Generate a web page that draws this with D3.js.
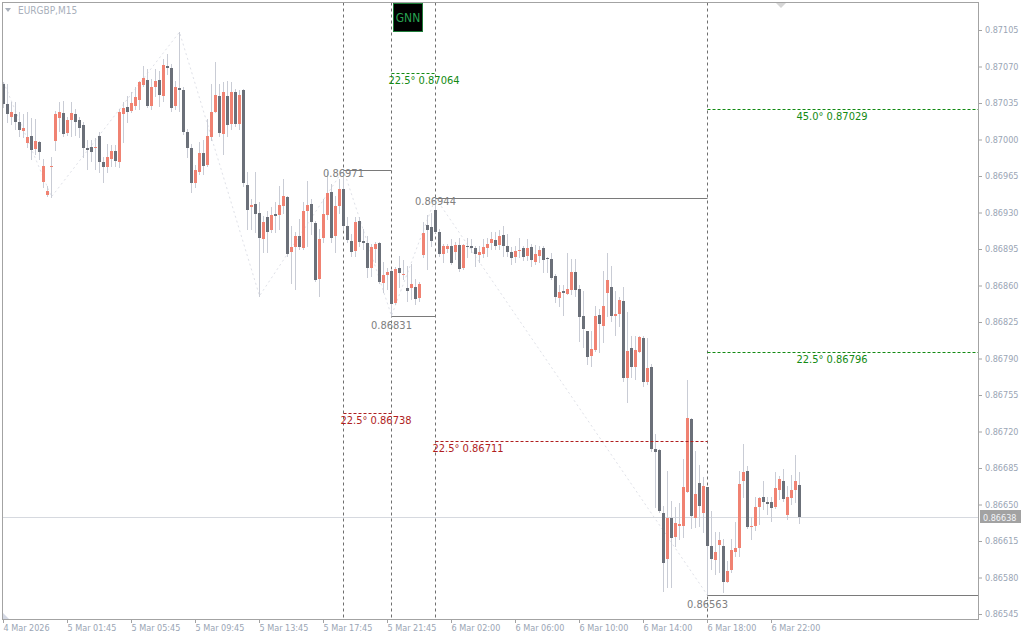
<!DOCTYPE html>
<html><head><meta charset="utf-8">
<script src="https://cdn.jsdelivr.net/npm/d3@7"></script>
<style>
html,body{margin:0;padding:0;background:#ffffff;}
svg{display:block;}
.cf{font-family:'DejaVu Sans Condensed','DejaVu Sans',sans-serif;font-stretch:condensed;}
</style></head>
<body>
<svg id="chart" width="1024" height="640"></svg>
<script>
const symbol = "EURGBP,M15";
const opens = [
0.87053,0.87034,0.87022,0.87024,0.87017,0.87008,0.86997,0.87003,0.86991,0.86998,
0.86959,0.86947,0.86974,0.86999,0.87021,0.87025,0.87006,0.87019,0.87024,0.87019,
0.87014,0.86992,0.86993,0.86992,0.87003,0.86978,0.86974,0.86981,0.86989,0.86978,
0.87024,0.87031,0.87027,0.87032,0.87038,0.87052,0.87057,0.87032,0.87050,0.87057,
0.87042,0.87070,0.87069,0.87032,0.87049,0.87047,0.87007,0.86992,0.86958,0.86969,
0.86987,0.86976,0.87002,0.87026,0.87042,0.87005,0.87042,0.87015,0.87046,0.87015,
0.87047,0.86956,0.86935,0.86938,0.86930,0.86905,0.86926,0.86913,0.86929,0.86928,
0.86936,0.86945,0.86892,0.86897,0.86907,0.86896,0.86931,0.86938,0.86920,0.86866,
0.86906,0.86928,0.86950,0.86907,0.86936,0.86953,0.86917,0.86903,0.86893,0.86922,
0.86903,0.86901,0.86877,0.86895,0.86901,0.86862,0.86870,0.86874,0.86843,0.86877,
0.86870,0.86858,0.86858,0.86859,0.86848,0.86889,0.86918,0.86916,0.86932,0.86911,
0.86890,0.86895,0.86898,0.86892,0.86899,0.86877,0.86898,0.86898,0.86896,0.86889,
0.86890,0.86896,0.86901,0.86904,0.86899,0.86908,0.86898,0.86892,0.86887,0.86893,
0.86896,0.86888,0.86897,0.86883,0.86888,0.86896,0.86886,0.86885,0.86869,0.86848,
0.86855,0.86852,0.86856,0.86873,0.86857,0.86831,0.86816,0.86792,0.86798,0.86832,
0.86821,0.86853,0.86859,0.86831,0.86833,0.86845,0.86771,0.86800,0.86782,0.86796,
0.86810,0.86767,0.86782,0.86703,0.86702,0.86642,0.86598,0.86637,0.86619,0.86629,
0.86629,0.86662,0.86732,0.86637,0.86671,0.86642,0.86667,0.86610,0.86597,0.86611,
0.86610,0.86576,0.86587,0.86604,0.86608,0.86673,0.86682,0.86628,0.86629,0.86648,
0.86657,0.86652,0.86652,0.86648,0.86664,0.86673,0.86640,0.86656,0.86664,0.86669];
const highs = [
0.87055,0.87053,0.87036,0.87036,0.87026,0.87024,0.87026,0.87021,0.87020,0.86999,
0.86981,0.86955,0.86983,0.87027,0.87036,0.87037,0.87022,0.87036,0.87029,0.87022,
0.87017,0.87000,0.87000,0.87001,0.87007,0.86983,0.86996,0.86995,0.86995,0.87029,
0.87036,0.87042,0.87046,0.87050,0.87056,0.87070,0.87068,0.87058,0.87068,0.87066,
0.87077,0.87082,0.87072,0.87056,0.87103,0.87050,0.87010,0.86996,0.86976,0.86998,
0.87000,0.87020,0.87053,0.87074,0.87053,0.87055,0.87056,0.87055,0.87048,0.87047,
0.87048,0.86969,0.86943,0.86969,0.86940,0.86927,0.86931,0.86935,0.86940,0.86955,
0.86962,0.86946,0.86917,0.86911,0.86924,0.86940,0.86960,0.86943,0.86922,0.86914,
0.86943,0.86969,0.86957,0.86946,0.86962,0.86971,0.86926,0.86909,0.86926,0.86926,
0.86914,0.86907,0.86900,0.86902,0.86902,0.86883,0.86877,0.86876,0.86878,0.86888,
0.86884,0.86879,0.86881,0.86866,0.86863,0.86921,0.86928,0.86930,0.86944,0.86914,
0.86900,0.86900,0.86905,0.86902,0.86906,0.86900,0.86906,0.86905,0.86898,0.86898,
0.86905,0.86906,0.86911,0.86911,0.86913,0.86917,0.86909,0.86897,0.86898,0.86906,
0.86898,0.86905,0.86900,0.86899,0.86898,0.86898,0.86887,0.86891,0.86871,0.86860,
0.86860,0.86891,0.86885,0.86885,0.86860,0.86855,0.86816,0.86816,0.86840,0.86837,
0.86874,0.86891,0.86879,0.86855,0.86849,0.86859,0.86835,0.86812,0.86812,0.86812,
0.86812,0.86810,0.86785,0.86718,0.86703,0.86649,0.86682,0.86653,0.86648,0.86651,
0.86694,0.86769,0.86733,0.86701,0.86688,0.86676,0.86667,0.86644,0.86624,0.86624,
0.86617,0.86596,0.86617,0.86633,0.86682,0.86708,0.86687,0.86638,0.86657,0.86657,
0.86673,0.86657,0.86657,0.86681,0.86677,0.86684,0.86668,0.86678,0.86697,0.86681];
const lows = [
0.87031,0.87017,0.87015,0.87010,0.87003,0.87002,0.86993,0.86981,0.86986,0.86981,
0.86954,0.86946,0.86945,0.86990,0.87008,0.87003,0.87004,0.87003,0.87004,0.87002,
0.86983,0.86972,0.86979,0.86972,0.86969,0.86959,0.86969,0.86975,0.86975,0.86974,
0.86998,0.87017,0.87026,0.87029,0.87029,0.87051,0.87031,0.87029,0.87042,0.87032,
0.87037,0.87063,0.87027,0.87029,0.87027,0.87005,0.86983,0.86950,0.86954,0.86967,
0.86967,0.86975,0.87000,0.87026,0.87003,0.86986,0.87003,0.87010,0.87013,0.87010,
0.86955,0.86914,0.86914,0.86911,0.86850,0.86892,0.86892,0.86911,0.86911,0.86914,
0.86930,0.86888,0.86862,0.86857,0.86895,0.86895,0.86898,0.86909,0.86864,0.86850,
0.86902,0.86924,0.86902,0.86892,0.86930,0.86914,0.86902,0.86888,0.86888,0.86898,
0.86895,0.86868,0.86869,0.86883,0.86862,0.86854,0.86857,0.86831,0.86842,0.86859,
0.86866,0.86845,0.86847,0.86842,0.86845,0.86887,0.86876,0.86898,0.86911,0.86888,
0.86883,0.86892,0.86881,0.86885,0.86874,0.86876,0.86887,0.86892,0.86879,0.86883,
0.86887,0.86888,0.86895,0.86895,0.86895,0.86888,0.86888,0.86881,0.86883,0.86887,
0.86884,0.86884,0.86879,0.86881,0.86883,0.86873,0.86873,0.86866,0.86844,0.86840,
0.86832,0.86852,0.86852,0.86850,0.86807,0.86801,0.86785,0.86783,0.86797,0.86796,
0.86806,0.86831,0.86826,0.86813,0.86821,0.86768,0.86748,0.86772,0.86770,0.86796,
0.86764,0.86766,0.86701,0.86648,0.86643,0.86567,0.86571,0.86571,0.86610,0.86617,
0.86619,0.86662,0.86627,0.86628,0.86629,0.86624,0.86563,0.86588,0.86583,0.86585,
0.86566,0.86576,0.86585,0.86601,0.86601,0.86657,0.86627,0.86617,0.86626,0.86631,
0.86646,0.86641,0.86634,0.86647,0.86655,0.86653,0.86636,0.86650,0.86652,0.86632];
const closes = [
0.87034,0.87024,0.87026,0.87017,0.87009,0.87011,0.87002,0.86990,0.86999,0.86988,
0.86975,0.86951,0.86975,0.87024,0.87026,0.87005,0.87019,0.87025,0.87017,0.87011,
0.86992,0.86990,0.86988,0.86993,0.86978,0.86974,0.86983,0.86989,0.86979,0.87026,
0.87030,0.87026,0.87035,0.87041,0.87055,0.87059,0.87032,0.87050,0.87056,0.87043,
0.87071,0.87069,0.87030,0.87050,0.87047,0.87007,0.86992,0.86958,0.86971,0.86987,
0.86975,0.87003,0.87026,0.87043,0.87006,0.87046,0.87014,0.87046,0.87015,0.87043,
0.86958,0.86932,0.86937,0.86929,0.86906,0.86921,0.86911,0.86928,0.86927,0.86937,
0.86946,0.86890,0.86897,0.86907,0.86897,0.86931,0.86937,0.86921,0.86865,0.86905,
0.86929,0.86949,0.86906,0.86936,0.86953,0.86917,0.86904,0.86892,0.86921,0.86902,
0.86901,0.86877,0.86897,0.86900,0.86863,0.86870,0.86873,0.86842,0.86876,0.86872,
0.86871,0.86855,0.86861,0.86847,0.86861,0.86910,0.86913,0.86903,0.86911,0.86890,
0.86898,0.86898,0.86882,0.86899,0.86876,0.86899,0.86897,0.86896,0.86890,0.86892,
0.86897,0.86900,0.86905,0.86898,0.86907,0.86898,0.86892,0.86886,0.86893,0.86894,
0.86887,0.86896,0.86884,0.86890,0.86894,0.86884,0.86885,0.86867,0.86849,0.86854,
0.86853,0.86857,0.86873,0.86856,0.86830,0.86818,0.86791,0.86799,0.86831,0.86823,
0.86840,0.86865,0.86831,0.86833,0.86846,0.86771,0.86797,0.86782,0.86798,0.86811,
0.86767,0.86781,0.86703,0.86700,0.86644,0.86594,0.86637,0.86618,0.86632,0.86631,
0.86667,0.86733,0.86639,0.86660,0.86649,0.86668,0.86610,0.86598,0.86604,0.86616,
0.86576,0.86586,0.86606,0.86608,0.86670,0.86681,0.86628,0.86629,0.86648,0.86656,
0.86652,0.86650,0.86647,0.86666,0.86674,0.86655,0.86657,0.86664,0.86673,0.86638];

const xTickIndex = [0,16,32,48,64,80,96,112,128,144,160,176,192];
const xTickLabels = ["4 Mar 2026","5 Mar 01:45","5 Mar 05:45","5 Mar 09:45","5 Mar 13:45","5 Mar 17:45",
  "5 Mar 21:45","6 Mar 02:00","6 Mar 06:00","6 Mar 10:00","6 Mar 14:00","6 Mar 18:00","6 Mar 22:00"];
const yTicks = [0.87105,0.87070,0.87035,0.87000,0.86965,0.86930,0.86895,0.86860,0.86825,0.86790,
  0.86755,0.86720,0.86685,0.86650,0.86615,0.86580,0.86545];
const lastPrice = 0.86638;

// ZigZag pivots (bar index + which extreme)
const zigzagIdx = [0,12,44,64,85,97,108,176];
const zigzagKind = ["high","low","high","low","high","low","high","low"];

// Swing levels marked with vertical dashed lines
const swingIdx = [85,97,108,176];
const swingPrice = [0.86971,0.86831,0.86944,0.86563];
const swingKind = ["high","low","high","low"];
const swingEndIdx = [97,108,176,-1]; // -1 : runs to the right edge

// Gann angle levels
const gannFromIdx = [97,176,176,85,108];
const gannToIdx = [108,-1,-1,97,176];
const gannPrice = [0.87064,0.87029,0.86796,0.86738,0.86711];
const gannAngle = ["22.5°","45.0°","22.5°","22.5°","22.5°"];
const gannLabelIdx = [97,199,199,85,108];
const gannDir = ["up","up","up","down","down"];

const buttonText = "GNN";

// ---------------- drawing ----------------
const svg = d3.select("#chart");
const plotL = 2.5, plotT = 2.5, plotR = 978.5, plotB = 619.5;
const n = opens.length;
const x = d3.scaleLinear().domain([0, n - 1]).range([3, 3 + 4 * (n - 1)]);
const y = d3.scaleLinear().domain([0.86545, 0.87105]).range([614, 30]);
const xc = i => x(i) + 0.5;
const yr = v => Math.round(y(v));
const yl = v => Math.round(y(v)) + 0.5;

const upCol = "#f08272", dnCol = "#6b7079", wickCol = "#c9ccd5";
const greenCol = "#138a13", redCol = "#b01e1e", grayLbl = "#808080";

svg.append("rect").attr("width", 1024).attr("height", 640).attr("fill", "#ffffff");

// current price line
svg.append("line").attr("x1", plotL).attr("x2", plotR)
  .attr("y1", yl(lastPrice)).attr("y2", yl(lastPrice))
  .attr("stroke", "#d6d9df").attr("stroke-width", 1);

// zigzag
const zz = zigzagIdx.map((i, k) => [xc(i), y(zigzagKind[k] === "high" ? highs[i] : lows[i])]);
svg.append("path").attr("d", d3.line()(zz)).attr("fill", "none")
  .attr("stroke", "#dfe1e8").attr("stroke-width", 1).attr("stroke-dasharray", "2,3");

// vertical dashed lines
svg.append("g").selectAll("line").data(swingIdx).join("line")
  .attr("x1", d => xc(d)).attr("x2", d => xc(d))
  .attr("y1", plotT).attr("y2", plotB)
  .attr("stroke", "#6e6e6e").attr("stroke-width", 1).attr("stroke-dasharray", "3,3");

// candles
const idx = d3.range(n);
const cg = svg.append("g");
cg.selectAll("line").data(idx).join("line")
  .attr("x1", i => xc(i)).attr("x2", i => xc(i))
  .attr("y1", i => yr(highs[i])).attr("y2", i => yr(lows[i]) + 1)
  .attr("stroke", wickCol).attr("stroke-width", 1);
cg.selectAll("rect").data(idx).join("rect")
  .attr("x", i => x(i) - 1)
  .attr("width", 3)
  .attr("y", i => yr(Math.max(opens[i], closes[i])))
  .attr("height", i => Math.max(1, yr(Math.min(opens[i], closes[i])) - yr(Math.max(opens[i], closes[i]))))
  .attr("fill", i => closes[i] >= opens[i] ? upCol : dnCol);

// swing horizontal lines + labels
const sg = svg.append("g");
swingIdx.forEach((i, k) => {
  const xe = swingEndIdx[k] < 0 ? plotR : xc(swingEndIdx[k]);
  sg.append("line").attr("x1", xc(i)).attr("x2", xe)
    .attr("y1", yl(swingPrice[k])).attr("y2", yl(swingPrice[k]))
    .attr("stroke", "#7a7a7a").attr("stroke-width", 1);
  sg.append("text").attr("class", "cf")
    .attr("x", xc(i)).attr("y", yr(swingPrice[k]) + (swingKind[k] === "high" ? 7 : 13))
    .attr("text-anchor", "middle").attr("font-size", 11).attr("fill", grayLbl)
    .text(d3.format(".5f")(swingPrice[k]));
});

// gann levels
const gg = svg.append("g");
gannPrice.forEach((p, k) => {
  const col = gannDir[k] === "up" ? greenCol : redCol;
  const xe = gannToIdx[k] < 0 ? plotR : xc(gannToIdx[k]);
  gg.append("line").attr("x1", xc(gannFromIdx[k])).attr("x2", xe)
    .attr("y1", yl(p)).attr("y2", yl(p))
    .attr("stroke", col).attr("stroke-width", 1).attr("stroke-dasharray", "3,2");
  gg.append("text").attr("class", "cf")
    .attr("x", xc(gannLabelIdx[k]) - 3).attr("y", yr(p) + 11)
    .attr("font-size", 11).attr("fill", col)
    .text(gannAngle[k] + " " + d3.format(".5f")(p));
});

// plot border
svg.append("rect").attr("x", plotL).attr("y", plotT)
  .attr("width", plotR - plotL).attr("height", plotB - plotT)
  .attr("fill", "none").attr("stroke", "#a3a3a3").attr("stroke-width", 1);

// y axis
const ya = svg.append("g").attr("transform", `translate(${plotR - 0.5},0)`)
  .call(d3.axisRight(y).tickValues(yTicks).tickSize(4).tickPadding(3).tickFormat(d3.format(".5f")));
ya.select(".domain").remove();
ya.selectAll("line").attr("stroke", "#a3a3a3");
ya.selectAll("text").attr("class", "cf").attr("font-size", 9).attr("fill", "#9aa5b5");

// x axis
const xa = svg.append("g").attr("transform", `translate(0,${plotB - 0.5})`)
  .call(d3.axisBottom(x).tickValues(xTickIndex).tickSize(4).tickPadding(2)
    .tickFormat((d, k) => xTickLabels[k]));
xa.select(".domain").remove();
xa.selectAll("line").attr("stroke", "#a3a3a3");
xa.selectAll("text").attr("class", "cf").attr("font-size", 9).attr("fill", "#9aa5b5")
  .attr("text-anchor", "start").attr("x", 0);

// current price tag
const ty = yr(lastPrice);
svg.append("rect").attr("x", 980).attr("y", ty - 7).attr("width", 41).attr("height", 13).attr("fill", "#a2a2a2");
svg.append("text").attr("class", "cf").attr("x", 983).attr("y", ty + 3.5)
  .attr("font-size", 9).attr("fill", "#f2f4f8").text(d3.format(".5f")(lastPrice));

// title
svg.append("path").attr("d", "M5,8 L11,8 L8,12 Z").attr("fill", "#a9b0bb");
svg.append("text").attr("class", "cf").attr("x", 18).attr("y", 14)
  .attr("font-size", 10).attr("fill", "#a9b0bb").text(symbol);

// GNN button
svg.append("rect").attr("x", 393.5).attr("y", 3.5).attr("width", 29).attr("height", 28)
  .attr("fill", "#000000").attr("stroke", "#1f7d3a").attr("stroke-width", 1);
svg.append("text").attr("class", "cf").attr("x", 408).attr("y", 22)
  .attr("text-anchor", "middle").attr("font-size", 12).attr("fill", "#28a050").text(buttonText);

// shift marker and corner marker
svg.append("path").attr("d", "M776,3 L786,3 L781,8 Z").attr("fill", "#d6d6d6");
svg.append("path").attr("d", "M3,613 L3,619 L9,619 Z").attr("fill", "#d4d8e4");
</script>
</body></html>
